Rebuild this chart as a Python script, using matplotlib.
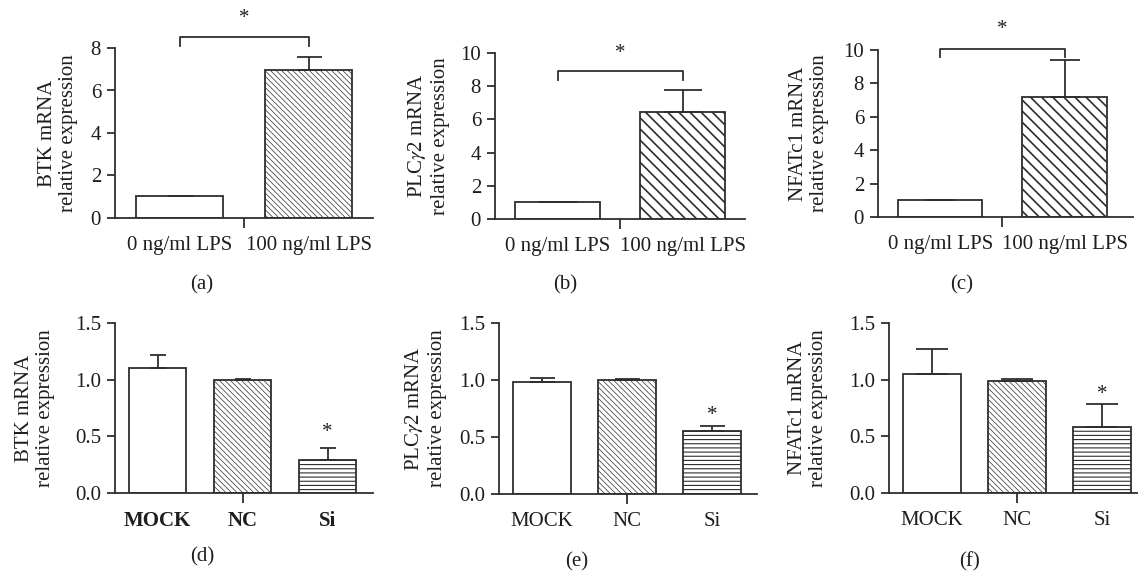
import numpy as np
import matplotlib
matplotlib.use("Agg")
import matplotlib.pyplot as plt
from matplotlib.ticker import FormatStrFormatter

plt.rcParams['font.family'] = ['Liberation Serif', 'DejaVu Serif']
plt.rcParams['mathtext.fontset'] = 'stix'

# ---------------- data ----------------
lps_categories = ["0 ng/ml LPS", "100 ng/ml LPS"]
si_categories = ["MOCK", "NC", "Si"]

btk_lps = [1.05, 6.98]
btk_lps_err = [0.0, 0.62]
plc_lps = [1.0, 6.46]
plc_lps_err = [0.0, 1.34]
nfat_lps = [1.0, 7.2]
nfat_lps_err = [0.0, 2.2]

btk_si = [1.10, 1.0, 0.29]
btk_si_err = [0.12, 0.01, 0.11]
plc_si = [0.98, 1.0, 0.55]
plc_si_err = [0.04, 0.005, 0.045]
nfat_si = [1.05, 0.99, 0.585]
nfat_si_err = [0.22, 0.015, 0.20]

lps_yticks = [[0, 2, 4, 6, 8], [0, 2, 4, 6, 8, 10], [0, 2, 4, 6, 8, 10]]
si_yticks = [0.0, 0.5, 1.0, 1.5]

ylabels = ["BTK mRNA\nrelative expression",
           "PLC$\\gamma$2 mRNA\nrelative expression",
           "NFATc1 mRNA\nrelative expression"]
panel_letters = ["(a)", "(b)", "(c)", "(d)", "(e)", "(f)"]

# significance brackets (top row): bracket level, leg bottom, star level
sig_bracket = [8.5, 8.9, 10.06]
sig_leg = [8.1, 8.4, 9.6]
sig_star = [9.4, 10.0, 11.2]
# stars above Si bars (bottom row)
si_star = [0.53, 0.685, 0.87]

# ---------------- style ----------------
W, H = 1138, 572
LC = '#2e2e2e'
TC = '#1e1e1e'
FS = 15

fig = plt.figure(figsize=(W / 100, H / 100), dpi=100)


def add_ax(left, right, top, bottom):
    return fig.add_axes([left / W, 1 - bottom / H, (right - left) / W, (bottom - top) / H])


def style_ax(ax, ymax, yticks, center_tick, xticks, xlabels, fmt=None, bold=False):
    for s in ['top', 'right']:
        ax.spines[s].set_visible(False)
    for s in ['left', 'bottom']:
        ax.spines[s].set_color(LC)
        ax.spines[s].set_linewidth(1.3)
    ax.set_ylim(0, ymax)
    ax.set_yticks(yticks)
    if fmt:
        ax.yaxis.set_major_formatter(FormatStrFormatter(fmt))
    ax.tick_params(axis='y', direction='out', length=6, width=1.3, color=LC,
                   labelsize=FS, labelcolor=TC, pad=4)
    ax.set_xticks(xticks)
    ax.set_xticklabels(xlabels, fontweight='bold' if bold else 'normal')
    ax.tick_params(axis='x', which='major', length=0, labelsize=FS, labelcolor=TC, pad=13)
    ax.xaxis.remove_overlapping_locs = False
    ax.set_xticks([center_tick], minor=True)
    ax.tick_params(axis='x', which='minor', direction='out', length=7, width=1.3, color=LC)


def hatched_bar(ax, x, h, hatch, hlw):
    with plt.rc_context({'hatch.linewidth': hlw}):
        b = ax.bar(x, h, width=0.68, color='white', edgecolor=LC, linewidth=1.3,
                   hatch=hatch, zorder=2)
    for p in b:
        try:
            p.set_hatch_linewidth(hlw)
        except AttributeError:
            pass
    return b


# ---------------- top row ----------------
top_rects = [(115, 373, 48, 218), (495, 745, 53, 219), (878, 1133, 50, 217)]
top_vals = [btk_lps, plc_lps, nfat_lps]
top_errs = [btk_lps_err, plc_lps_err, nfat_lps_err]
top_hatch = [('\\' * 6, 0.5), ('\\' * 3, 1.2), ('\\' * 3, 1.2)]
top_caps = [9, 14, 11]
top_ylab_dx = [57, 67, 69]
top_letter_x = [202, 565, 962]

for i in range(3):
    l, r, t, b = top_rects[i]
    ax = add_ax(l, r, t, b)
    x = np.arange(len(lps_categories))
    vals = top_vals[i]
    hatched_bar(ax, x[:1], vals[:1], None, 1.0)
    hatched_bar(ax, x[1:], vals[1:], top_hatch[i][0], top_hatch[i][1])
    ax.errorbar(x, vals, yerr=[np.zeros(len(vals)), top_errs[i]], fmt='none',
                ecolor=LC, elinewidth=1.3, capsize=top_caps[i], capthick=1.3, zorder=3)
    ax.set_xlim(-0.5, 1.5 if i < 2 else 1.55)
    style_ax(ax, lps_yticks[i][-1], lps_yticks[i], 0.5, x, lps_categories)
    # significance bracket
    ax.plot([x[0], x[0], x[1], x[1]], [sig_leg[i], sig_bracket[i], sig_bracket[i], sig_leg[i]],
            color=LC, lw=1.3, clip_on=False)
    ax.text((x[0] + x[1]) / 2, sig_star[i], '*', ha='center', va='center',
            fontsize=FS, color=TC, clip_on=False)
    ax.set_ylabel(ylabels[i], fontsize=FS, color=TC, linespacing=1.15)
    ax.yaxis.label.set_va('center')
    ax.yaxis.set_label_coords(-top_ylab_dx[i] / (r - l), 0.5)
    fig.text(top_letter_x[i] / W, 1 - 285 / H, panel_letters[i], ha='center', va='center',
             fontsize=FS, color=TC)

# ---------------- bottom row ----------------
bot_rects = [(115, 373, 323, 493), (499, 757, 323, 494), (889, 1138, 323, 493)]
bot_vals = [btk_si, plc_si, nfat_si]
bot_errs = [btk_si_err, plc_si_err, nfat_si_err]
bot_caps = [6, 9, 11.5]
bot_ylab_dx = [80, 74, 81]
bot_letter = [(202, 557), (577, 562), (970, 562)]
bot_spacing = [85.0, 85.25, 85.25]

for i in range(3):
    l, r, t, b = bot_rects[i]
    ax = add_ax(l, r, t, b)
    x = np.arange(len(si_categories))
    vals = bot_vals[i]
    hatched_bar(ax, x[0:1], vals[0:1], None, 1.0)
    hatched_bar(ax, x[1:2], vals[1:2], '\\' * 6, 0.5)
    hatched_bar(ax, x[2:3], vals[2:3], '----', 0.8)
    ax.errorbar(x, vals, yerr=[np.zeros(len(vals)), bot_errs[i]], fmt='none',
                ecolor=LC, elinewidth=1.3, capsize=bot_caps[i], capthick=1.3, zorder=3)
    ax.set_xlim(-0.5, -0.5 + (r - l) / bot_spacing[i])
    style_ax(ax, 1.5, si_yticks, 1, x, si_categories, fmt='%.1f', bold=(i == 0))
    ax.text(x[2], si_star[i], '*', ha='center', va='center', fontsize=FS, color=TC)
    ax.set_ylabel(ylabels[i], fontsize=FS, color=TC, linespacing=1.15)
    ax.yaxis.label.set_va('center')
    ax.yaxis.set_label_coords(-bot_ylab_dx[i] / (r - l), 0.5)
    fig.text(bot_letter[i][0] / W, 1 - bot_letter[i][1] / H, panel_letters[i + 3],
             ha='center', va='center', fontsize=FS, color=TC)

fig.savefig("out.png", dpi=100)
